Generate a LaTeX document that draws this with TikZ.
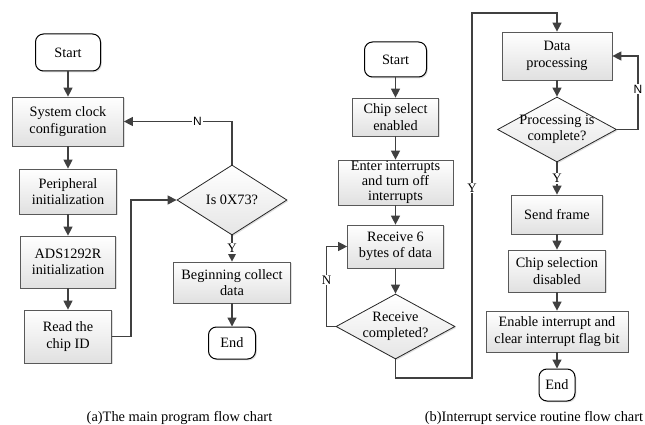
\documentclass[tikz,border=0pt]{standalone}
\usepackage{fontspec}
\setmainfont{Liberation Serif}
\newfontfamily\sansN{Liberation Sans}
\usetikzlibrary{shapes.geometric,arrows.meta,shadows,calc}
\begin{document}
\begin{tikzpicture}[x=1pt,y=-1pt,
  conn/.style={draw=black!75, line width=1.3pt},
  arr/.style={conn, -{Triangle[length=9pt,width=9pt]}},
  shadowed/.style={drop shadow={opacity=0.25,shadow xshift=1.3pt,shadow yshift=-1.3pt}},
  box/.style={draw=black!65, line width=0.7pt, top color=white, bottom color=black!12, shadowed,
    align=center, inner sep=0pt, font=\fontsize{14.3}{16.5}\selectfont},
  term/.style={draw=black, line width=1pt, fill=white, rounded corners=8pt, shadowed,
    align=center, inner sep=0pt, font=\fontsize{14.3}{16.5}\selectfont},
  dec/.style={diamond, draw=black!85, line width=0.8pt, top color=white, bottom color=black!10,
    inner sep=0pt, shadowed},
  dectext/.style={align=center, inner sep=0pt, font=\fontsize{14.3}{16.5}\selectfont},
  lab/.style={fill=white, inner sep=1pt, font=\fontsize{13}{14}\selectfont},
  labsans/.style={fill=white, inner sep=1pt, font=\sansN\fontsize{12}{13}\selectfont},
  caption/.style={inner sep=0pt, font=\fontsize{14.4}{16}\selectfont},
]
\useasboundingbox (0,0) rectangle (645,425);

% ---------- left chart ----------
\node[term, minimum width=65pt, minimum height=37pt] (start1) at (68,52.5) {Start};
\node[box, minimum width=111pt, minimum height=49pt] (sc1) at (68,121.5) {System clock\\configuration};
\node[box, minimum width=97pt, minimum height=45pt] (per) at (68,191.5) {Peripheral\\initialization};
\node[box, minimum width=95pt, minimum height=52pt] (ads) at (68,262) {ADS1292R\\initialization};
\node[box, minimum width=87pt, minimum height=53pt] (read) at (68,336.5) {Read the\\chip ID};
\node[dec, minimum width=110pt, minimum height=70pt] (isdia) at (232,200) {};
\node[dectext] (isdiat) at (isdia) {Is 0X73?};
\node[box, minimum width=117pt, minimum height=41pt] (beg) at (232,282.5) {Beginning collect\\data};
\node[term, minimum width=47pt, minimum height=32pt] (end1) at (232,343) {End};

\draw[arr] (start1) -- (sc1);
\draw[arr] (sc1) -- (per);
\draw[arr] (per) -- (ads);
\draw[arr] (ads) -- (read);
\coordinate (c1) at (131,336.5);
\draw[arr] (read.east) -- (c1) |- (isdia.west);
\draw[arr] (isdia.north) |- node[labsans, pos=0.66] {N} (sc1.east);
\draw[arr] (isdia.south) -- node[lab] {Y} (beg.north);
\draw[arr] (beg) -- (end1);

% ---------- right chart ----------
\node[term, minimum width=62pt, minimum height=35pt] (start2) at (395.5,59.5) {Start};
\node[box, minimum width=86pt, minimum height=38pt] (cs) at (395.5,117) {Chip select\\enabled};
\node[box, minimum width=115pt, minimum height=45pt, font=\fontsize{14.3}{15}\selectfont] (enter) at (395.5,182.5) {Enter interrupts\\and turn off\\interrupts};
\node[box, minimum width=96pt, minimum height=43pt] (recv) at (395.5,246.5) {Receive 6\\bytes of data};
\node[dec, minimum width=119pt, minimum height=65pt] (rdia) at (395.5,326.5) {};
\node[dectext] (rdiat) at (rdia) {Receive\\completed?};

\node[box, minimum width=110pt, minimum height=48pt] (dp) at (557,56) {Data\\processing};
\node[dec, minimum width=119pt, minimum height=65pt] (pdia) at (557,129.5) {};
\node[dectext] (pdiat) at (pdia) {Processing is\\complete?};
\node[box, minimum width=91pt, minimum height=39pt] (send) at (557,214.5) {Send frame};
\node[box, minimum width=97pt, minimum height=42pt] (csd) at (557,271) {Chip selection\\disabled};
\node[box, minimum width=142pt, minimum height=41pt] (enab) at (557,331.5) {Enable interrupt and\\clear interrupt flag bit};
\node[term, minimum width=36pt, minimum height=32pt] (end2) at (557,385) {End};

\draw[arr] (start2) -- (cs);
\draw[arr] (cs) -- (enter);
\draw[arr] (enter) -- (recv);
\draw[arr] (recv) -- (rdia);
\draw[arr] (rdia.west) -- ++(-9,0) |- node[lab, pos=0.29] {N} (recv.west);
\coordinate (yb) at (472,378);
\coordinate (yt) at (472,13);
\draw[arr] (rdia.south) |- (yb) -- node[lab, pos=0.52] {Y} (yt) -| (dp.north);
\draw[arr] (dp) -- (pdia);
\draw[arr] (pdia.east) -- ++(21,0) |- node[labsans, pos=0.275] {N} (dp.east);
\draw[arr] (pdia.south) -- node[lab] {Y} (send.north);
\draw[arr] (send) -- (csd);
\draw[arr] (csd) -- (enab);
\draw[arr] (enab) -- (end2);

% ---------- captions ----------
\node[caption] (capa) at (179.5,418) {(a)The main program flow chart};
\node[caption] (capb) at (534,418) {(b)Interrupt service routine flow chart};
\end{tikzpicture}
\end{document}
